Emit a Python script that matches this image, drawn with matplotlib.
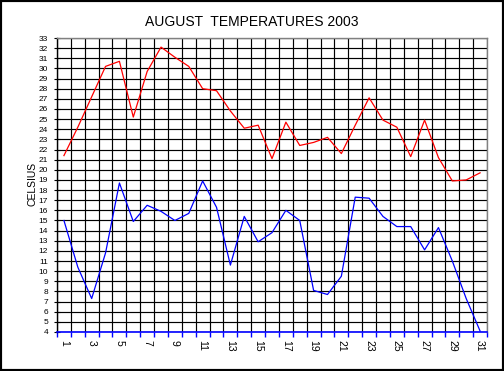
import matplotlib
matplotlib.use("Agg")
import matplotlib.pyplot as plt
import numpy as np
from matplotlib.patches import Rectangle

# daily maximum / minimum temperatures, august 2003
days = list(range(1, 32))
t_max = [21.4, 24.2, 27.2, 30.2, 30.7, 25.2, 29.7, 32.1, 31.1, 30.2,
         28.0, 27.8, 25.8, 24.1, 24.4, 21.1, 24.7, 22.4, 22.7, 23.2,
         21.6, 24.4, 27.1, 24.9, 24.2, 21.3, 24.9, 21.2, 18.9, 19.0, 19.7]
t_min = [15.0, 10.4, 7.3, 11.8, 18.7, 14.9, 16.5, 15.9, 15.0, 15.7,
         18.9, 16.3, 10.6, 15.4, 12.9, 13.8, 16.0, 15.0, 8.1, 7.7,
         9.5, 17.3, 17.2, 15.4, 14.4, 14.4, 12.1, 14.3, 11.0, 7.3, 4.1]
y_ticks = list(range(4, 34))
x_labels = [d for d in days if d % 2 == 1]

plt.rcParams['font.family'] = ['Liberation Sans', 'DejaVu Sans']

fig = plt.figure(figsize=(5.04, 3.71), dpi=100)
ax = fig.add_axes([57/504, 1-332/371, 430/504, 294/371])

ax.plot(days, t_max, color='#ff0000', lw=0.9, zorder=3)
ax.plot(days, t_min, color='#0000ff', lw=0.9, zorder=3)

ax.set_xlim(0.5, 31.5)
ax.set_ylim(4, 33)

# category boundaries carry grid + ticks, labels sit on odd days
ax.set_xticks(np.arange(0.5, 32, 1), minor=True)
ax.set_xticks(x_labels)
ax.set_xticklabels([str(d) for d in x_labels], rotation=270, fontsize=7.5)
ax.tick_params(axis='x', which='major', length=0, pad=6)
ax.tick_params(axis='x', which='minor', length=3.5, width=1, color='#0000ff', direction='out')

ax.set_yticks(y_ticks)
ax.set_yticklabels([str(v) for v in y_ticks], fontsize=6)
ax.tick_params(axis='y', length=5, width=0.8, direction='inout', pad=4)

ax.grid(True, which='minor', axis='x', color='black', lw=0.85)
ax.grid(True, which='major', axis='y', color='black', lw=0.85)

ax.spines['bottom'].set_color('#0000ff')
ax.spines['bottom'].set_linewidth(1.2)
ax.spines['left'].set_color('black')
ax.spines['left'].set_linewidth(1.0)
ax.spines['top'].set_color('#808080')
ax.spines['right'].set_color('#808080')
ax.spines['top'].set_linewidth(1.0)
ax.spines['right'].set_linewidth(1.0)

fig.text(0.5, 1-22/371, 'AUGUST  TEMPERATURES 2003', ha='center', va='center', fontsize=10)
fig.text(33/504, 1-184/371, 'CELSIUS', rotation=90, ha='center', va='center', fontsize=7.5)

fig.patches.append(Rectangle((0, 0), 1, 1, transform=fig.transFigure, fill=False,
                             edgecolor='black', lw=3))

fig.savefig('out.png', dpi=100)
